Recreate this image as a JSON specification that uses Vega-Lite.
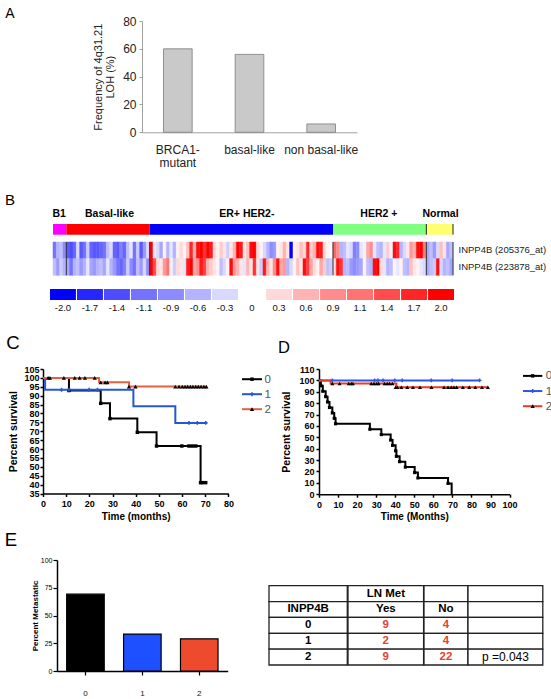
{
"$schema":"https://vega.github.io/schema/vega-lite/v6.json",
"padding":0,
"background":"white",
"spacing":0,
"resolve":{"scale":{"color":"independent","fill":"independent","stroke":"independent","shape":"independent","size":"independent"}},
"config":{"view":{"stroke":null},"font":"Liberation Sans","text":{"font":"Liberation Sans"},"axis":{"grid":false,"domainColor":"#000","tickColor":"#000","labelColor":"#000","titleColor":"#000","labelFont":"Liberation Sans","titleFont":"Liberation Sans"}},
"vconcat":[
{"width":0.01,"height":7,"data":{"values":[]},"mark":"point"},
{"hconcat":[
 {"width":3,"height":171.3,"data":{"values":[]},"mark":"point"},
 {"width":14,"height":0.01,"data":{"values":[]},"mark":"point","title":{"text":"A","fontSize":14,"fontWeight":"normal","font":"Liberation Sans","color":"#000","offset":0,"anchor":"middle","frame":"group"}},
 {"width":125,"height":0.01,"data":{"values":[]},"mark":"point"},
 {"width":215,"height":111.3,
  "data":{"values":[{"group":"BRCA1-mutant","freq":60},{"group":"basal-like","freq":56},{"group":"non basal-like","freq":6}]},
  "mark":{"type":"bar","fill":"#c9c9c9","stroke":"#7a7a7a","strokeWidth":0.8},
  "encoding":{
   "x":{"field":"group","type":"nominal","sort":null,"scale":{"paddingInner":0.6,"paddingOuter":0.3},
    "axis":{"title":null,"labelAngle":0,"ticks":false,"tickSize":0,"domainColor":"#a0a0a0","labelFontSize":12,"labelPadding":12,"labelLineHeight":13.5,"labelColor":"#222","labelExpr":"datum.value == 'BRCA1-mutant' ? ['BRCA1-','mutant'] : datum.value"}},
   "y":{"field":"freq","type":"quantitative","scale":{"domain":[0,80]},
    "axis":{"title":["Frequency of 4q31.21","LOH (%)"],"values":[0,20,40,60,80],"tickCount":10,"tickSize":3,"tickColor":"#a0a0a0","domainColor":"#a0a0a0","labelFontSize":12,"labelPadding":3,"labelColor":"#222","titleFontSize":11,"titleFontWeight":"normal","titleColor":"#222","titleLineHeight":12,"titlePadding":7}}}}
],"spacing":0,"bounds":"flush","resolve":{"scale":{"color":"independent","fill":"independent","stroke":"independent","shape":"independent","size":"independent"}}},
{"hconcat":[
 {"width":3,"height":15,"data":{"values":[]},"mark":"point"},
 {"width":14,"height":14,"data":{"values":[{"t":"B"}]},"mark":{"type":"text","fontSize":15,"color":"#000"},"encoding":{"text":{"field":"t"}}}
],"spacing":0,"bounds":"flush"},
{"hconcat":[
 {"width":53,"height":16.2,"data":{"values":[]},"mark":"point"},
 {"width":400,"height":10.7,
  "data":{"values":[{"g":"B1","s":0,"e":4},{"g":"Basal-like","s":4,"e":29},{"g":"ER+ HER2-","s":29,"e":84},{"g":"HER2 +","s":84,"e":112},{"g":"Normal","s":112,"e":120}]},
  "layer":[
   {"mark":{"type":"rect"},"encoding":{
     "x":{"field":"s","type":"quantitative","scale":{"domain":[0,120],"nice":false},"axis":{"orient":"top","title":null,"values":[1.7,16.8,58,97.6,116.1],"tickCount":20,"ticks":false,"tickSize":0,"domain":false,"labelPadding":6,"labelFontSize":10.5,"labelFontWeight":"bold","labelFlush":false,"labelOverlap":false,"labelExpr":"datum.value < 5 ? 'B1' : datum.value < 30 ? 'Basal-like' : datum.value < 80 ? 'ER+ HER2-' : datum.value < 110 ? 'HER2 +' : 'Normal'"}},
     "x2":{"field":"e"},
     "color":{"field":"g","type":"nominal","scale":{"domain":["B1","Basal-like","ER+ HER2-","HER2 +","Normal"],"range":["#ff00ff","#ff0000","#0000ff","#80ff80","#ffff70"]},"legend":null}}},
   {"transform":[{"filter":"datum.s >= 84"}],"mark":{"type":"rule","color":"#222","strokeWidth":1},"encoding":{"x":{"field":"e","type":"quantitative"}}}
  ]}
],"spacing":0,"bounds":"flush","resolve":{"scale":{"color":"independent"}}},
{"hconcat":[
 {"width":53,"height":46.7,"data":{"values":[]},"mark":"point"},
 {"width":400,"height":33.3,
  "layer":[
   {"data":{"values":[
{"i":0,"p":"205376_at","v":-1.1},{"i":1,"p":"205376_at","v":-0.6},{"i":2,"p":"205376_at","v":-0.5},{"i":3,"p":"205376_at","v":-0.9},{"i":4,"p":"205376_at","v":-1.3},{"i":5,"p":"205376_at","v":-1.4},{"i":6,"p":"205376_at","v":-1.2},{"i":7,"p":"205376_at","v":-0.3},{"i":8,"p":"205376_at","v":-1.3},{"i":9,"p":"205376_at","v":-1.1},
{"i":10,"p":"205376_at","v":-0.4},{"i":11,"p":"205376_at","v":-1.2},{"i":12,"p":"205376_at","v":-1.3},{"i":13,"p":"205376_at","v":-1.3},{"i":14,"p":"205376_at","v":-1.2},{"i":15,"p":"205376_at","v":-1.1},{"i":16,"p":"205376_at","v":-0.5},{"i":17,"p":"205376_at","v":-0.3},{"i":18,"p":"205376_at","v":-1.2},{"i":19,"p":"205376_at","v":-1.3},
{"i":20,"p":"205376_at","v":-1.0},{"i":21,"p":"205376_at","v":-1.2},{"i":22,"p":"205376_at","v":-0.5},{"i":23,"p":"205376_at","v":-0.2},{"i":24,"p":"205376_at","v":-1.1},{"i":25,"p":"205376_at","v":-0.4},{"i":26,"p":"205376_at","v":-1.3},{"i":27,"p":"205376_at","v":-0.8},{"i":28,"p":"205376_at","v":-0.3},{"i":29,"p":"205376_at","v":2.0},
{"i":30,"p":"205376_at","v":-0.2},{"i":31,"p":"205376_at","v":-0.3},{"i":32,"p":"205376_at","v":-0.7},{"i":33,"p":"205376_at","v":0.1},{"i":34,"p":"205376_at","v":-0.6},{"i":35,"p":"205376_at","v":-0.2},{"i":36,"p":"205376_at","v":-0.6},{"i":37,"p":"205376_at","v":0.1},{"i":38,"p":"205376_at","v":0.3},{"i":39,"p":"205376_at","v":0.1},
{"i":40,"p":"205376_at","v":0.5},{"i":41,"p":"205376_at","v":1.7},{"i":42,"p":"205376_at","v":0.6},{"i":43,"p":"205376_at","v":1.9},{"i":44,"p":"205376_at","v":2.0},{"i":45,"p":"205376_at","v":1.6},{"i":46,"p":"205376_at","v":2.0},{"i":47,"p":"205376_at","v":1.8},{"i":48,"p":"205376_at","v":0.3},{"i":49,"p":"205376_at","v":0.1},
{"i":50,"p":"205376_at","v":0.4},{"i":51,"p":"205376_at","v":0.2},{"i":52,"p":"205376_at","v":-0.4},{"i":53,"p":"205376_at","v":0.2},{"i":54,"p":"205376_at","v":0.6},{"i":55,"p":"205376_at","v":2.0},{"i":56,"p":"205376_at","v":1.8},{"i":57,"p":"205376_at","v":0.2},{"i":58,"p":"205376_at","v":0.5},{"i":59,"p":"205376_at","v":1.9},
{"i":60,"p":"205376_at","v":2.0},{"i":61,"p":"205376_at","v":0.3},{"i":62,"p":"205376_at","v":0.1},{"i":63,"p":"205376_at","v":-0.3},{"i":64,"p":"205376_at","v":-0.6},{"i":65,"p":"205376_at","v":-0.9},{"i":66,"p":"205376_at","v":-0.8},{"i":67,"p":"205376_at","v":0.1},{"i":68,"p":"205376_at","v":0.2},{"i":69,"p":"205376_at","v":0.6},
{"i":70,"p":"205376_at","v":0.2},{"i":71,"p":"205376_at","v":-2.0},{"i":72,"p":"205376_at","v":0.1},{"i":73,"p":"205376_at","v":0.2},{"i":74,"p":"205376_at","v":0.5},{"i":75,"p":"205376_at","v":0.3},{"i":76,"p":"205376_at","v":1.7},{"i":77,"p":"205376_at","v":0.4},{"i":78,"p":"205376_at","v":0.6},{"i":79,"p":"205376_at","v":1.9},
{"i":80,"p":"205376_at","v":1.8},{"i":81,"p":"205376_at","v":0.3},{"i":82,"p":"205376_at","v":0.1},{"i":83,"p":"205376_at","v":0.0},{"i":84,"p":"205376_at","v":1.2},{"i":85,"p":"205376_at","v":0.9},{"i":86,"p":"205376_at","v":-0.6},{"i":87,"p":"205376_at","v":-0.5},{"i":88,"p":"205376_at","v":-0.2},{"i":89,"p":"205376_at","v":-0.3},
{"i":90,"p":"205376_at","v":-1.0},{"i":91,"p":"205376_at","v":-0.9},{"i":92,"p":"205376_at","v":-0.2},{"i":93,"p":"205376_at","v":-0.1},{"i":94,"p":"205376_at","v":0.7},{"i":95,"p":"205376_at","v":0.9},{"i":96,"p":"205376_at","v":-0.2},{"i":97,"p":"205376_at","v":-0.5},{"i":98,"p":"205376_at","v":-0.6},{"i":99,"p":"205376_at","v":-0.2},
{"i":100,"p":"205376_at","v":0.4},{"i":101,"p":"205376_at","v":-0.1},{"i":102,"p":"205376_at","v":1.9},{"i":103,"p":"205376_at","v":1.7},{"i":104,"p":"205376_at","v":-0.6},{"i":105,"p":"205376_at","v":-0.3},{"i":106,"p":"205376_at","v":0.2},{"i":107,"p":"205376_at","v":0.8},{"i":108,"p":"205376_at","v":0.6},{"i":109,"p":"205376_at","v":1.9},
{"i":110,"p":"205376_at","v":2.0},{"i":111,"p":"205376_at","v":1.0},{"i":112,"p":"205376_at","v":-0.7},{"i":113,"p":"205376_at","v":-0.5},{"i":114,"p":"205376_at","v":-0.8},{"i":115,"p":"205376_at","v":-0.3},{"i":116,"p":"205376_at","v":0.5},{"i":117,"p":"205376_at","v":0.2},{"i":118,"p":"205376_at","v":-0.7},{"i":119,"p":"205376_at","v":-0.5},
{"i":0,"p":"223878_at","v":-0.5},{"i":1,"p":"223878_at","v":-0.8},{"i":2,"p":"223878_at","v":-0.4},{"i":3,"p":"223878_at","v":-0.6},{"i":4,"p":"223878_at","v":-0.7},{"i":5,"p":"223878_at","v":-1.1},{"i":6,"p":"223878_at","v":-0.6},{"i":7,"p":"223878_at","v":-0.5},{"i":8,"p":"223878_at","v":-0.8},{"i":9,"p":"223878_at","v":-0.6},
{"i":10,"p":"223878_at","v":-0.2},{"i":11,"p":"223878_at","v":-0.7},{"i":12,"p":"223878_at","v":-0.8},{"i":13,"p":"223878_at","v":-0.6},{"i":14,"p":"223878_at","v":-0.5},{"i":15,"p":"223878_at","v":-0.7},{"i":16,"p":"223878_at","v":-0.2},{"i":17,"p":"223878_at","v":-0.6},{"i":18,"p":"223878_at","v":-0.8},{"i":19,"p":"223878_at","v":-1.1},
{"i":20,"p":"223878_at","v":-1.2},{"i":21,"p":"223878_at","v":-1.0},{"i":22,"p":"223878_at","v":-0.4},{"i":23,"p":"223878_at","v":-0.9},{"i":24,"p":"223878_at","v":-1.1},{"i":25,"p":"223878_at","v":-0.5},{"i":26,"p":"223878_at","v":-0.8},{"i":27,"p":"223878_at","v":-0.3},{"i":28,"p":"223878_at","v":-0.9},{"i":29,"p":"223878_at","v":2.0},
{"i":30,"p":"223878_at","v":1.4},{"i":31,"p":"223878_at","v":0.3},{"i":32,"p":"223878_at","v":0.2},{"i":33,"p":"223878_at","v":0.8},{"i":34,"p":"223878_at","v":1.1},{"i":35,"p":"223878_at","v":0.1},{"i":36,"p":"223878_at","v":-0.4},{"i":37,"p":"223878_at","v":0.3},{"i":38,"p":"223878_at","v":0.2},{"i":39,"p":"223878_at","v":-0.2},
{"i":40,"p":"223878_at","v":1.8},{"i":41,"p":"223878_at","v":2.0},{"i":42,"p":"223878_at","v":0.7},{"i":43,"p":"223878_at","v":0.9},{"i":44,"p":"223878_at","v":1.8},{"i":45,"p":"223878_at","v":1.5},{"i":46,"p":"223878_at","v":0.6},{"i":47,"p":"223878_at","v":0.4},{"i":48,"p":"223878_at","v":0.2},{"i":49,"p":"223878_at","v":0.1},
{"i":50,"p":"223878_at","v":-0.5},{"i":51,"p":"223878_at","v":-0.3},{"i":52,"p":"223878_at","v":0.1},{"i":53,"p":"223878_at","v":1.9},{"i":54,"p":"223878_at","v":0.8},{"i":55,"p":"223878_at","v":0.6},{"i":56,"p":"223878_at","v":0.2},{"i":57,"p":"223878_at","v":-0.2},{"i":58,"p":"223878_at","v":0.6},{"i":59,"p":"223878_at","v":0.2},
{"i":60,"p":"223878_at","v":1.6},{"i":61,"p":"223878_at","v":0.2},{"i":62,"p":"223878_at","v":-0.4},{"i":63,"p":"223878_at","v":1.8},{"i":64,"p":"223878_at","v":0.6},{"i":65,"p":"223878_at","v":0.2},{"i":66,"p":"223878_at","v":0.9},{"i":67,"p":"223878_at","v":1.9},{"i":68,"p":"223878_at","v":0.7},{"i":69,"p":"223878_at","v":0.8},
{"i":70,"p":"223878_at","v":-0.6},{"i":71,"p":"223878_at","v":-0.3},{"i":72,"p":"223878_at","v":0.1},{"i":73,"p":"223878_at","v":0.5},{"i":74,"p":"223878_at","v":0.2},{"i":75,"p":"223878_at","v":1.9},{"i":76,"p":"223878_at","v":1.5},{"i":77,"p":"223878_at","v":0.7},{"i":78,"p":"223878_at","v":0.3},{"i":79,"p":"223878_at","v":0.1},
{"i":80,"p":"223878_at","v":0.7},{"i":81,"p":"223878_at","v":0.4},{"i":82,"p":"223878_at","v":-0.5},{"i":83,"p":"223878_at","v":-0.4},{"i":84,"p":"223878_at","v":0.3},{"i":85,"p":"223878_at","v":1.9},{"i":86,"p":"223878_at","v":1.6},{"i":87,"p":"223878_at","v":-0.6},{"i":88,"p":"223878_at","v":-0.5},{"i":89,"p":"223878_at","v":-0.8},
{"i":90,"p":"223878_at","v":-0.9},{"i":91,"p":"223878_at","v":-0.8},{"i":92,"p":"223878_at","v":-0.7},{"i":93,"p":"223878_at","v":0.1},{"i":94,"p":"223878_at","v":-0.5},{"i":95,"p":"223878_at","v":-0.6},{"i":96,"p":"223878_at","v":1.9},{"i":97,"p":"223878_at","v":2.0},{"i":98,"p":"223878_at","v":0.3},{"i":99,"p":"223878_at","v":-0.2},
{"i":100,"p":"223878_at","v":-0.6},{"i":101,"p":"223878_at","v":-0.5},{"i":102,"p":"223878_at","v":0.1},{"i":103,"p":"223878_at","v":-0.2},{"i":104,"p":"223878_at","v":0.1},{"i":105,"p":"223878_at","v":-0.5},{"i":106,"p":"223878_at","v":-0.6},{"i":107,"p":"223878_at","v":0.5},{"i":108,"p":"223878_at","v":0.2},{"i":109,"p":"223878_at","v":0.1},
{"i":110,"p":"223878_at","v":-0.2},{"i":111,"p":"223878_at","v":-0.3},{"i":112,"p":"223878_at","v":-0.7},{"i":113,"p":"223878_at","v":-0.5},{"i":114,"p":"223878_at","v":-0.4},{"i":115,"p":"223878_at","v":1.9},{"i":116,"p":"223878_at","v":-0.3},{"i":117,"p":"223878_at","v":-0.6},{"i":118,"p":"223878_at","v":-0.5},{"i":119,"p":"223878_at","v":-0.7}
   ]},
   "mark":{"type":"rect","strokeWidth":0.5},
   "encoding":{
    "x":{"field":"i","type":"ordinal","scale":{"paddingInner":0,"paddingOuter":0},"axis":null},
    "y":{"field":"p","type":"nominal","scale":{"paddingInner":0,"paddingOuter":0},"axis":{"orient":"right","title":null,"ticks":false,"domain":false,"labelFontSize":9.5,"labelPadding":5,"labelColor":"#222","labelExpr":"'INPP4B (' + datum.value + ')'"}},
    "color":{"field":"v","type":"quantitative","scale":{"type":"linear","domain":[-2,0,2],"range":["#0000ff","#ffffff","#ff0000"],"interpolate":"rgb"},"legend":null},
    "stroke":{"field":"v","type":"quantitative","scale":{"type":"linear","domain":[-2,0,2],"range":["#0000ff","#ffffff","#ff0000"],"interpolate":"rgb"},"legend":null}}},
   {"data":{"values":[{"b":4},{"b":29},{"b":84},{"b":112},{"b":120}]},
    "mark":{"type":"rule","color":"#333","strokeWidth":1},
    "encoding":{"x":{"field":"b","type":"quantitative","scale":{"domain":[0,120]},"axis":null}}}
  ],
  "resolve":{"scale":{"x":"independent"}}}
],"spacing":0,"bounds":"flush","resolve":{"scale":{"color":"independent","stroke":"independent"}}},
{"hconcat":[
 {"width":50,"height":44.7,"data":{"values":[]},"mark":"point"},
 {"width":404,"height":11,
  "data":{"values":[{"lab":"-2.0","v":-2.0},{"lab":"-1.7","v":-1.7},{"lab":"-1.4","v":-1.4},{"lab":"-1.1","v":-1.1},{"lab":"-0.9","v":-0.9},{"lab":"-0.6","v":-0.6},{"lab":"-0.3","v":-0.3},{"lab":"0","v":0},{"lab":"0.3","v":0.3},{"lab":"0.6","v":0.6},{"lab":"0.9","v":0.9},{"lab":"1.1","v":1.1},{"lab":"1.4","v":1.4},{"lab":"1.7","v":1.7},{"lab":"2.0","v":2.0}]},
  "mark":{"type":"rect"},
  "encoding":{
   "x":{"field":"lab","type":"ordinal","sort":null,"scale":{"paddingInner":0.04,"paddingOuter":0},"axis":{"title":null,"ticks":false,"domain":false,"labelAngle":0,"labelFontSize":9.5,"labelPadding":2,"labelColor":"#111"}},
   "color":{"field":"v","type":"quantitative","scale":{"type":"linear","domain":[-2,0,2],"range":["#0000ff","#ffffff","#ff0000"],"interpolate":"rgb"},"legend":null}}}
],"spacing":0,"bounds":"flush","resolve":{"scale":{"color":"independent"}}},
{"hconcat":[
 {"width":5.5,"height":30.9,"data":{"values":[]},"mark":"point"},
 {"width":14,"height":18,"data":{"values":[{"t":"C"}]},"mark":{"type":"text","fontSize":18.5,"color":"#000"},"encoding":{"text":{"field":"t"}}},
 {"width":256.5,"height":0.01,"data":{"values":[]},"mark":"point"},
 {"width":14,"height":27,"data":{"values":[{"t":"D"}]},"mark":{"type":"text","fontSize":16.5,"color":"#000"},"encoding":{"text":{"field":"t"}}}
],"spacing":0,"bounds":"flush"},
{"hconcat":[
 {"width":42.3,"height":161.1,"data":{"values":[]},"mark":"point"},
 {"width":185.4,"height":124.5,
  "layer":[
   {"data":{"values":[
{"g":"0","t":0,"s":100},{"g":"0","t":11.2,"s":92.9},{"g":"0","t":24.9,"s":85.7},{"g":"0","t":28.9,"s":77.1},{"g":"0","t":40.7,"s":69.4},{"g":"0","t":49,"s":61.7},{"g":"0","t":68,"s":41.1},{"g":"0","t":70.6,"s":41.1},
{"g":"1","t":0,"s":100},{"g":"1","t":0.9,"s":93.3},{"g":"1","t":39,"s":84},{"g":"1","t":57.1,"s":74.7},{"g":"1","t":70.6,"s":74.7},
{"g":"2","t":0,"s":100},{"g":"2","t":24.2,"s":97.5},{"g":"2","t":37.1,"s":95.1},{"g":"2","t":70.6,"s":95.1}
   ]},
   "mark":{"type":"line","interpolate":"step-after","strokeWidth":2},
   "encoding":{
    "x":{"field":"t","type":"quantitative","scale":{"domain":[0,80],"nice":false},"axis":{"title":"Time (months)","values":[0,10,20,30,40,50,60,70,80],"tickCount":30,"labelFontSize":9,"labelFontWeight":"bold","labelFlush":false,"labelOverlap":false,"tickSize":3,"tickWidth":1.5,"domainWidth":1.5,"labelPadding":3,"titleFontSize":10,"titleFontWeight":"bold","titlePadding":2.5}},
    "y":{"field":"s","type":"quantitative","scale":{"domain":[35,105],"zero":false,"nice":false},"axis":{"title":"Percent survival","values":[35,40,45,50,55,60,65,70,75,80,85,90,95,100,105],"tickCount":30,"labelFontSize":9,"labelFontWeight":"bold","labelFlush":false,"labelOverlap":false,"tickSize":3,"tickWidth":1.5,"domainWidth":1.5,"labelPadding":1,"titleFontSize":10.5,"titleFontWeight":"bold","titlePadding":5}},
    "stroke":{"field":"g","type":"nominal","scale":{"domain":["0","1","2"],"range":["#000000","#2457d6","#e2623f"]},"legend":null}}},
   {"data":{"values":[
{"g":"0","t":11.2,"s":92.9},{"g":"0","t":24.9,"s":85.7},{"g":"0","t":28.9,"s":77.1},{"g":"0","t":40.7,"s":69.4},{"g":"0","t":49,"s":61.7},{"g":"0","t":59.9,"s":61.7},{"g":"0","t":63,"s":61.7},{"g":"0","t":64.4,"s":61.7},{"g":"0","t":65.9,"s":61.7},{"g":"0","t":68,"s":41.1},{"g":"0","t":68.8,"s":41.1},{"g":"0","t":70.2,"s":41.1},
{"g":"1","t":8,"s":93.3},{"g":"1","t":11.2,"s":93.3},{"g":"1","t":19.9,"s":93.3},{"g":"1","t":23.5,"s":93.3},{"g":"1","t":63,"s":74.7},{"g":"1","t":66.6,"s":74.7},{"g":"1","t":70.2,"s":74.7},
{"g":"2","t":2.2,"s":100},{"g":"2","t":3,"s":100},{"g":"2","t":9,"s":100},{"g":"2","t":13.7,"s":100},{"g":"2","t":15.8,"s":100},{"g":"2","t":18.1,"s":100},{"g":"2","t":22.3,"s":100},{"g":"2","t":24.9,"s":97.5},{"g":"2","t":26.8,"s":97.5},{"g":"2","t":27.8,"s":97.5},{"g":"2","t":37.1,"s":95.1},{"g":"2","t":39.9,"s":95.1},{"g":"2","t":57.1,"s":95.1},{"g":"2","t":58.7,"s":95.1},{"g":"2","t":60.1,"s":95.1},{"g":"2","t":61.3,"s":95.1},{"g":"2","t":62.4,"s":95.1},{"g":"2","t":63.6,"s":95.1},{"g":"2","t":64.7,"s":95.1},{"g":"2","t":65.9,"s":95.1},{"g":"2","t":67,"s":95.1},{"g":"2","t":68.2,"s":95.1},{"g":"2","t":69.4,"s":95.1},{"g":"2","t":70.5,"s":95.1}
   ]},
   "mark":{"type":"point","filled":true,"opacity":1},
   "encoding":{
    "x":{"field":"t","type":"quantitative"},
    "y":{"field":"s","type":"quantitative"},
    "shape":{"field":"g","type":"nominal","scale":{"domain":["0","1","2"],"range":["square","cross","triangle-up"]},"legend":null},
    "fill":{"field":"g","type":"nominal","scale":{"domain":["0","1","2"],"range":["#000000","#2457d6","#000000"]},"legend":null},
    "size":{"field":"g","type":"nominal","scale":{"domain":["0","1","2"],"range":[12,18,20]},"legend":null}}}
  ]},
 {"width":13,"height":0.01,"data":{"values":[]},"mark":"point"},
 {"width":20,"height":50.4,"data":{"values":[{"g":"0"},{"g":"1"},{"g":"2"}]},
  "layer":[
   {"mark":{"type":"rule","strokeWidth":2},"encoding":{"y":{"field":"g","type":"nominal","scale":{"type":"point","padding":0.68},"axis":{"orient":"right","title":null,"ticks":false,"domain":false,"labelFontSize":11.5,"labelColor":"#555","labelPadding":2}},"stroke":{"field":"g","type":"nominal","scale":{"domain":["0","1","2"],"range":["#000000","#2457d6","#e2623f"]},"legend":null}}},
   {"mark":{"type":"point","filled":true,"opacity":1},"encoding":{"y":{"field":"g","type":"nominal"},"shape":{"field":"g","type":"nominal","scale":{"domain":["0","1","2"],"range":["square","cross","triangle-up"]},"legend":null},"fill":{"field":"g","type":"nominal","scale":{"domain":["0","1","2"],"range":["#000000","#2457d6","#000000"]},"legend":null},"size":{"field":"g","type":"nominal","scale":{"domain":["0","1","2"],"range":[12,18,20]},"legend":null}}}
  ]},
 {"width":57,"height":0.01,"data":{"values":[]},"mark":"point"},
 {"width":190.6,"height":125.2,
  "layer":[
   {"data":{"values":[
{"g":"0","t":0,"s":100},{"g":"0","t":1,"s":95.2},{"g":"0","t":2,"s":90.5},{"g":"0","t":3.5,"s":85.7},{"g":"0","t":4.5,"s":81},{"g":"0","t":5.5,"s":76.2},{"g":"0","t":7,"s":71.4},{"g":"0","t":8,"s":66.7},{"g":"0","t":8.7,"s":61.9},{"g":"0","t":26.7,"s":57.1},{"g":"0","t":32.7,"s":52.4},{"g":"0","t":37.6,"s":47.6},{"g":"0","t":38.6,"s":42.9},{"g":"0","t":40.2,"s":38.1},{"g":"0","t":40.6,"s":33.3},{"g":"0","t":42.3,"s":28.6},{"g":"0","t":45.3,"s":23.8},{"g":"0","t":50.2,"s":19},{"g":"0","t":51.9,"s":14.3},{"g":"0","t":67.7,"s":9.5},{"g":"0","t":69.6,"s":0},
{"g":"1","t":0,"s":100},{"g":"1","t":84.3,"s":100},
{"g":"2","t":0,"s":100},{"g":"2","t":6.1,"s":97.3},{"g":"2","t":40.6,"s":93.9},{"g":"2","t":88.6,"s":93.9}
   ]},
   "mark":{"type":"line","interpolate":"step-after","strokeWidth":2},
   "encoding":{
    "x":{"field":"t","type":"quantitative","scale":{"domain":[0,100],"nice":false},"axis":{"title":"Time (Months)","values":[0,10,20,30,40,50,60,70,80,90,100],"tickCount":30,"labelFontSize":9,"labelFontWeight":"bold","labelFlush":false,"labelOverlap":false,"tickSize":3,"tickWidth":1.5,"domainWidth":1.5,"labelPadding":3,"titleFontSize":10,"titleFontWeight":"bold","titlePadding":2.5}},
    "y":{"field":"s","type":"quantitative","scale":{"domain":[0,110],"nice":false},"axis":{"title":"Percent survival","values":[0,10,20,30,40,50,60,70,80,90,100,110],"tickCount":30,"labelFontSize":9,"labelFontWeight":"bold","labelFlush":false,"labelOverlap":false,"tickSize":3,"tickWidth":1.5,"domainWidth":1.5,"labelPadding":2,"titleFontSize":10.5,"titleFontWeight":"bold","titlePadding":7.5}},
    "stroke":{"field":"g","type":"nominal","scale":{"domain":["0","1","2"],"range":["#000000","#2f55e6","#e53d2a"]},"legend":null}}},
   {"data":{"values":[
{"g":"0","t":1,"s":95.2},{"g":"0","t":2,"s":90.5},{"g":"0","t":3.5,"s":85.7},{"g":"0","t":4.5,"s":81},{"g":"0","t":5.5,"s":76.2},{"g":"0","t":7,"s":71.4},{"g":"0","t":8,"s":66.7},{"g":"0","t":8.7,"s":61.9},{"g":"0","t":26.7,"s":57.1},{"g":"0","t":32.7,"s":52.4},{"g":"0","t":37.6,"s":47.6},{"g":"0","t":38.6,"s":42.9},{"g":"0","t":40.2,"s":38.1},{"g":"0","t":40.6,"s":33.3},{"g":"0","t":42.3,"s":28.6},{"g":"0","t":45.3,"s":23.8},{"g":"0","t":50.2,"s":19},{"g":"0","t":51.9,"s":14.3},{"g":"0","t":67.7,"s":9.5},
{"g":"1","t":7,"s":100},{"g":"1","t":29.2,"s":100},{"g":"1","t":30.9,"s":100},{"g":"1","t":33.6,"s":100},{"g":"1","t":39.7,"s":100},{"g":"1","t":43.7,"s":100},{"g":"1","t":58.9,"s":100},{"g":"1","t":69.9,"s":100},{"g":"1","t":84.3,"s":100},
{"g":"2","t":7,"s":97.3},{"g":"2","t":10.8,"s":97.3},{"g":"2","t":15.6,"s":97.3},{"g":"2","t":17,"s":97.3},{"g":"2","t":17.8,"s":97.3},{"g":"2","t":27.4,"s":97.3},{"g":"2","t":28.8,"s":97.3},{"g":"2","t":30.2,"s":97.3},{"g":"2","t":31.3,"s":97.3},{"g":"2","t":34.4,"s":97.3},{"g":"2","t":35.8,"s":97.3},{"g":"2","t":37,"s":97.3},{"g":"2","t":38.5,"s":97.3},
{"g":"2","t":40.2,"s":93.9},{"g":"2","t":41.1,"s":93.9},{"g":"2","t":43.2,"s":93.9},{"g":"2","t":46.3,"s":93.9},{"g":"2","t":49.3,"s":93.9},{"g":"2","t":53,"s":93.9},{"g":"2","t":59,"s":93.9},{"g":"2","t":65.6,"s":93.9},{"g":"2","t":67.7,"s":93.9},{"g":"2","t":69.4,"s":93.9},{"g":"2","t":70.8,"s":93.9},{"g":"2","t":72.2,"s":93.9},{"g":"2","t":75.5,"s":93.9},{"g":"2","t":78.8,"s":93.9},{"g":"2","t":82,"s":93.9},{"g":"2","t":85.5,"s":93.9},{"g":"2","t":88.6,"s":93.9}
   ]},
   "mark":{"type":"point","filled":true,"opacity":1},
   "encoding":{
    "x":{"field":"t","type":"quantitative"},
    "y":{"field":"s","type":"quantitative"},
    "shape":{"field":"g","type":"nominal","scale":{"domain":["0","1","2"],"range":["square","cross","triangle-up"]},"legend":null},
    "fill":{"field":"g","type":"nominal","scale":{"domain":["0","1","2"],"range":["#000000","#2f55e6","#000000"]},"legend":null},
    "size":{"field":"g","type":"nominal","scale":{"domain":["0","1","2"],"range":[10,16,20]},"legend":null}}}
  ]},
 {"width":12.4,"height":0.01,"data":{"values":[]},"mark":"point"},
 {"width":19.3,"height":44.1,"data":{"values":[{"g":"0"},{"g":"1"},{"g":"2"}]},
  "layer":[
   {"mark":{"type":"rule","strokeWidth":2},"encoding":{"y":{"field":"g","type":"nominal","scale":{"type":"point","padding":0.455},"axis":{"orient":"right","title":null,"ticks":false,"domain":false,"labelFontSize":11.5,"labelColor":"#555","labelPadding":3}},"stroke":{"field":"g","type":"nominal","scale":{"domain":["0","1","2"],"range":["#000000","#2f55e6","#e53d2a"]},"legend":null}}},
   {"mark":{"type":"point","filled":true,"opacity":1},"encoding":{"y":{"field":"g","type":"nominal"},"shape":{"field":"g","type":"nominal","scale":{"domain":["0","1","2"],"range":["square","cross","triangle-up"]},"legend":null},"fill":{"field":"g","type":"nominal","scale":{"domain":["0","1","2"],"range":["#000000","#2f55e6","#000000"]},"legend":null},"size":{"field":"g","type":"nominal","scale":{"domain":["0","1","2"],"range":[12,18,20]},"legend":null}}}
  ]}
],"spacing":0,"bounds":"flush","resolve":{"scale":{"color":"independent","fill":"independent","stroke":"independent","shape":"independent","size":"independent"}}},
{"hconcat":[
 {"width":3.5,"height":24.4,"data":{"values":[]},"mark":"point"},
 {"width":14,"height":18,"data":{"values":[{"t":"E"}]},"mark":{"type":"text","fontSize":18.5,"color":"#000"},"encoding":{"text":{"field":"t"}}}
],"spacing":0,"bounds":"flush"},
{"hconcat":[
 {"width":57,"height":0.01,"data":{"values":[]},"mark":"point"},
 {"width":170.7,"height":111,
  "data":{"values":[{"g":"0","pct":69.2},{"g":"1","pct":33.3},{"g":"2","pct":29.0}]},
  "mark":{"type":"bar","stroke":"#000","strokeWidth":1.2},
  "encoding":{
   "x":{"field":"g","type":"nominal","scale":{"paddingInner":0.34,"paddingOuter":0.17},"axis":{"title":null,"labelAngle":0,"labelFontSize":8,"tickSize":4,"tickWidth":1.2,"domainWidth":1.5,"labelPadding":14,"labelColor":"#111"}},
   "y":{"field":"pct","type":"quantitative","scale":{"domain":[0,100]},"axis":{"title":"Percent  Metastatic","values":[0,25,50,75,100],"tickCount":20,"labelFontSize":7,"tickSize":4,"tickWidth":1.2,"domainWidth":1.5,"labelPadding":1,"titleFontSize":8,"titleFontWeight":"bold","titlePadding":1.3}},
   "fill":{"field":"g","type":"nominal","scale":{"domain":["0","1","2"],"range":["#000000","#1f50ff","#ee4a2d"]},"legend":null}}},
 {"width":40.1,"height":0.01,"data":{"values":[]},"mark":"point"},
 {"width":78.3,"height":105,
  "data":{"values":[{"r":1,"t":"","k":"label"},{"r":2,"t":"INPP4B","k":"label"},{"r":3,"t":"0","k":"label"},{"r":4,"t":"1","k":"label"},{"r":5,"t":"2","k":"label"}]},
  "layer":[
   {"mark":{"type":"rect","fill":"white","stroke":"#222","strokeWidth":1.3},"encoding":{"y":{"field":"r","type":"ordinal","scale":{"paddingInner":0,"paddingOuter":0.81,"align":1},"axis":null}}},
   {"mark":{"type":"text","fontSize":11.5,"fontWeight":"bold"},"encoding":{"y":{"field":"r","type":"ordinal"},"text":{"field":"t"},"color":{"field":"k","type":"nominal","scale":{"domain":["label","count"],"range":["#000000","#e8402a"]},"legend":null}}}
  ]},
 {"width":75.6,"height":105,
  "data":{"values":[{"r":1,"t":"LN Met","k":"label"},{"r":2,"t":"Yes","k":"label"},{"r":3,"t":"9","k":"count"},{"r":4,"t":"2","k":"count"},{"r":5,"t":"9","k":"count"}]},
  "layer":[
   {"mark":{"type":"rect","fill":"white","stroke":"#222","strokeWidth":1.3},"encoding":{"y":{"field":"r","type":"ordinal","scale":{"paddingInner":0,"paddingOuter":0.81,"align":1},"axis":null}}},
   {"mark":{"type":"text","fontSize":11.5,"fontWeight":"bold"},"encoding":{"y":{"field":"r","type":"ordinal"},"text":{"field":"t"},"color":{"field":"k","type":"nominal","scale":{"domain":["label","count"],"range":["#000000","#e8402a"]},"legend":null}}}
  ]},
 {"width":43.9,"height":105,
  "data":{"values":[{"r":1,"t":"","k":"label"},{"r":2,"t":"No","k":"label"},{"r":3,"t":"4","k":"count"},{"r":4,"t":"4","k":"count"},{"r":5,"t":"22","k":"count"}]},
  "layer":[
   {"mark":{"type":"rect","fill":"white","stroke":"#222","strokeWidth":1.3},"encoding":{"y":{"field":"r","type":"ordinal","scale":{"paddingInner":0,"paddingOuter":0.81,"align":1},"axis":null}}},
   {"mark":{"type":"text","fontSize":11.5,"fontWeight":"bold"},"encoding":{"y":{"field":"r","type":"ordinal"},"text":{"field":"t"},"color":{"field":"k","type":"nominal","scale":{"domain":["label","count"],"range":["#000000","#e8402a"]},"legend":null}}}
  ]},
 {"width":74.8,"height":105,
  "data":{"values":[{"r":1,"t":""},{"r":2,"t":""},{"r":3,"t":""},{"r":4,"t":""},{"r":5,"t":"p =0.043"}]},
  "layer":[
   {"mark":{"type":"rect","fill":"white","stroke":"#222","strokeWidth":1.3},"encoding":{"y":{"field":"r","type":"ordinal","scale":{"paddingInner":0,"paddingOuter":0.81,"align":1},"axis":null}}},
   {"mark":{"type":"text","fontSize":12,"fontWeight":"normal","color":"#000"},"encoding":{"y":{"field":"r","type":"ordinal"},"text":{"field":"t"}}}
  ]}
],"spacing":0,"bounds":"flush","resolve":{"scale":{"color":"independent","fill":"independent","stroke":"independent","shape":"independent","size":"independent"}}}
]
}
